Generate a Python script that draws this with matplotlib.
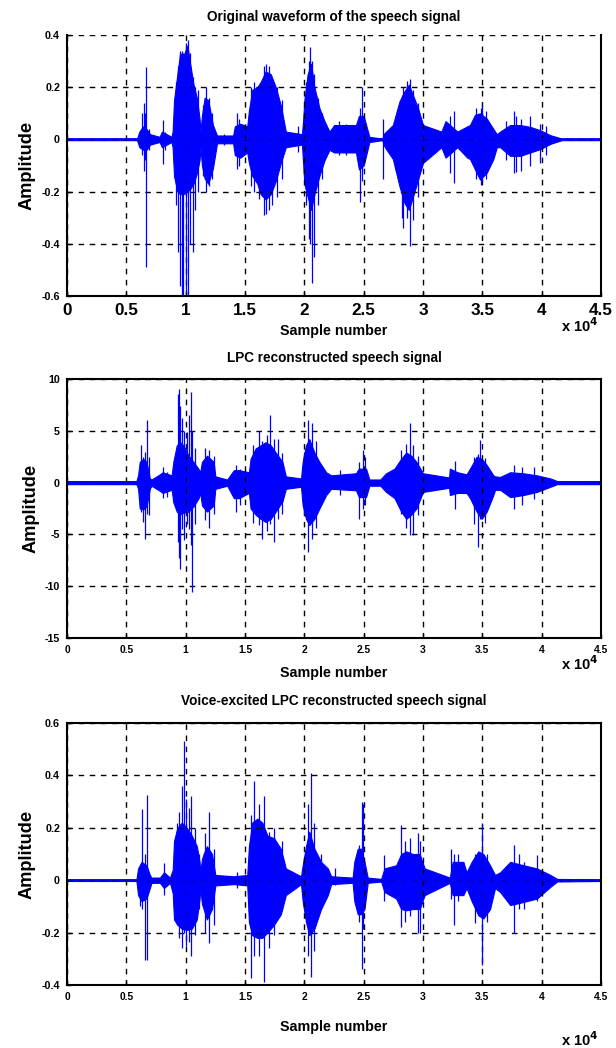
import numpy as np
import matplotlib.pyplot as plt
from matplotlib import font_manager

installed = {f.name for f in font_manager.fontManager.ttflist}
if 'Liberation Sans Narrow' in installed:
    plt.rcParams['font.family'] = ['Liberation Sans Narrow', 'DejaVu Sans']
    fs = 1.0
else:
    plt.rcParams['font.family'] = ['Liberation Sans', 'DejaVu Sans']
    fs = 0.82
plt.rcParams['font.weight'] = 'bold'

# ---- panel 1: original waveform (sample, upper / lower edge of the dense core) ----
orig_x = [0, 5900, 6100, 6400, 6700, 7000, 7800, 8000, 8400, 8800, 8900, 9020, 9300, 9530,
          9810, 10150, 10380, 10660, 10940, 11170, 11250, 11370, 11600, 11900, 12300,
          12640, 14000, 14140, 14600, 15190, 15330, 15610, 16040, 16320, 16740, 17170,
          17590, 18020, 18440, 19800, 19910, 20000, 20280, 20570, 20850, 21270, 21700,
          22120, 22510, 24350, 24600, 25000, 25480, 26580, 26670, 26890, 27460, 28020,
          28450, 28810, 29150, 29580, 30000, 31550, 31900, 32900, 33730, 33960, 34380,
          34800, 35370, 35930, 36220, 36500, 37350, 38190, 39040, 39890, 40740, 41200,
          41700, 45000]
orig_up = [0.003, 0.003, 0.03, 0.05, 0.04, 0.02, 0.01, 0.03, 0.02, 0.01, 0.03, 0.15, 0.25, 0.33,
           0.32, 0.36, 0.29, 0.21, 0.16, 0.08, 0.03, 0.09, 0.16, 0.15, 0.055,
           0.015, 0.015, 0.05, 0.06, 0.05, 0.11, 0.19, 0.20, 0.22, 0.26, 0.25,
           0.20, 0.13, 0.03, 0.02, 0.08, 0.15, 0.25, 0.29, 0.20, 0.12, 0.07,
           0.03, 0.055, 0.055, 0.09, 0.09, 0.01, 0.003, 0.02, 0.03, 0.055, 0.146,
           0.185, 0.21, 0.17, 0.12, 0.055, 0.03, 0.07, 0.03, 0.05, 0.055, 0.094,
           0.10, 0.08, 0.04, 0.02, 0.03, 0.055, 0.055, 0.048, 0.035, 0.016, 0.01,
           0.003, 0.003]
orig_lo = [-0.003, -0.003, -0.03, -0.04, -0.04, -0.02, -0.01, -0.03, -0.02, -0.01, -0.03, -0.14, -0.20, -0.21,
           -0.21, -0.20, -0.19, -0.17, -0.13, -0.08, -0.03, -0.10, -0.15, -0.17, -0.11,
           -0.015, -0.015, -0.06, -0.07, -0.05, -0.09, -0.14, -0.17, -0.21, -0.23, -0.21,
           -0.16, -0.09, -0.03, -0.02, -0.10, -0.17, -0.22, -0.27, -0.21, -0.14, -0.08,
           -0.04, -0.05, -0.05, -0.115, -0.10, -0.01, -0.003, -0.02, -0.037, -0.075, -0.18,
           -0.245, -0.27, -0.22, -0.155, -0.09, -0.03, -0.07, -0.03, -0.07, -0.075, -0.115,
           -0.154, -0.128, -0.075, -0.03, -0.03, -0.063, -0.063, -0.05, -0.037, -0.017, -0.01,
           -0.003, -0.003]
orig_spk_x = [6350, 6450, 6560, 6620, 6900, 8060, 8250, 9200, 9390, 9530, 9670, 9810, 10010,
              10180, 10380, 10600, 10800, 11000, 11500, 11740, 12000, 12200, 13200, 14300,
              14500, 15500, 15800, 16200, 16600, 16800, 17000, 17300, 17700, 18100, 19430,
              20100, 20380, 20500, 20620, 20850, 21150, 21500, 22900, 23500, 24720, 24860,
              26610, 27700, 28200, 28300, 28670, 28870, 29150, 29600, 30500, 32300, 32630,
              34500, 34860, 34940, 35300, 37000, 37630, 37800, 38300, 39040, 39890, 40400]
orig_spk_hi = [0.10, 0.14, 0.10, 0.277, 0.04, 0.075, 0.03, 0.22, 0.28, 0.34, 0.34, 0.33, 0.37,
               0.38, 0.33, 0.24, 0.20, 0.19, 0.13, 0.20, 0.16, 0.10, 0.02, 0.10,
               0.08, 0.20, 0.22, 0.21, 0.28, 0.29, 0.28, 0.22, 0.20, 0.15, 0.05,
               0.22, 0.30, 0.355, 0.30, 0.25, 0.16, 0.10, 0.07, 0.06, 0.12, 0.20,
               0.08, 0.09, 0.17, 0.20, 0.225, 0.23, 0.19, 0.14, 0.045, 0.09, 0.107,
               0.12, 0.12, 0.133, 0.11, 0.07, 0.107, 0.09, 0.08, 0.09, 0.06, 0.05]
orig_spk_lo = [-0.06, -0.12, -0.08, -0.49, -0.04, -0.095, -0.04, -0.25, -0.43, -0.56, -0.60, -0.60, -0.59,
               -0.60, -0.40, -0.43, -0.27, -0.20, -0.14, -0.20, -0.18, -0.15, -0.02, -0.115,
               -0.10, -0.18, -0.20, -0.23, -0.29, -0.285, -0.27, -0.25, -0.22, -0.15, -0.05,
               -0.25, -0.38, -0.40, -0.55, -0.45, -0.25, -0.15, -0.06, -0.06, -0.24, -0.16,
               -0.15, -0.12, -0.30, -0.34, -0.30, -0.41, -0.31, -0.22, -0.04, -0.13, -0.167,
               -0.15, -0.174, -0.16, -0.15, -0.08, -0.128, -0.125, -0.12, -0.10, -0.09, -0.06]

# ---- panel 2: LPC reconstructed ----
lpc_x = [0, 5850, 5990, 6130, 6420, 6700, 6980, 7120, 7830, 8060, 8820, 8960, 9250, 9530,
         9810, 10240, 10660, 11090, 11230, 11370, 11800, 12360, 12500, 13500, 14060, 14500,
         15330, 15470, 15900, 16320, 16740, 17170, 17590, 18160, 18440, 19720, 19860,
         20140, 20420, 20850, 21270, 21840, 22260, 24350, 24600, 25200, 25480, 26400,
         26890, 27600, 28160, 28590, 29010, 29440, 30000, 32200, 32260, 32900, 33670,
         33960, 34520, 34940, 35370, 35930, 36070, 36500, 37350, 38470, 39600, 40740,
         41300, 45000]
lpc_up = [0.15, 0.15, 0.7, 2.0, 2.3, 2.0, 0.4, 0.3, 0.8, 1.0, 0.7, 2.0, 3.6, 3.9,
          3.6, 2.6, 2.0, 1.3, 1.0, 2.0, 2.6, 2.0, 0.6, 0.3, 1.2, 1.2,
          1.0, 2.3, 3.3, 3.6, 3.9, 3.6, 2.9, 2.0, 0.6, 0.4, 2.0,
          3.6, 4.2, 2.9, 2.0, 1.0, 0.7, 0.9, 1.35, 1.35, 0.3, 0.3,
          0.9, 1.35, 2.3, 2.9, 2.6, 2.0, 0.9, 0.5, 1.35, 1.0, 0.8,
          1.35, 2.5, 2.3, 1.7, 0.7, 0.6, 0.55, 1.0, 0.9, 0.7, 0.4,
          0.15, 0.15]
lpc_lo = [-0.15, -0.15, -0.6, -2.5, -2.6, -2.3, -0.6, -0.3, -0.8, -1.0, -0.7, -1.9, -2.8, -3.1,
          -2.9, -2.8, -2.3, -1.5, -1.0, -2.2, -2.8, -2.2, -0.6, -0.3, -1.5, -1.5,
          -1.0, -2.5, -3.1, -3.5, -3.8, -3.5, -2.8, -1.8, -0.6, -0.4, -2.2,
          -3.5, -4.1, -3.5, -2.5, -1.2, -0.6, -0.74, -1.4, -1.4, -0.3, -0.3,
          -0.9, -1.5, -2.8, -3.5, -3.1, -2.5, -0.9, -0.5, -1.2, -1.0, -1.0,
          -1.5, -2.8, -3.5, -2.8, -1.2, -0.7, -0.7, -1.4, -1.2, -0.9, -0.4,
          -0.15, -0.15]
lpc_spk_x = [6220, 6420, 6560, 6730, 6900, 8060, 8400, 9330, 9440, 9530, 9670, 9850, 10100,
             10250, 10420, 10520, 10800, 11590, 11930, 12360, 14200, 14550, 15700, 16180,
             16460, 16890, 17110, 17450, 17750, 18160, 20000, 20340, 20620, 20950, 23000,
             24580, 24920, 25100, 28160, 28590, 28870, 29150, 29580, 32680, 34300, 34660,
             34800, 35230, 37630, 38330, 39320]
lpc_spk_hi = [3.6, 2.5, 3.0, 6.0, 2.5, 1.5, 1.0, 8.6, 9.0, 7.4, 6.2, 5.0, 4.9,
              6.5, 8.7, 5.0, 3.3, 3.3, 3.1, 2.6, 1.7, 1.3, 3.6, 5.0,
              4.0, 4.6, 6.5, 4.2, 4.2, 2.9, 3.0, 6.0, 5.8, 4.0, 1.2,
              2.0, 3.1, 2.5, 3.1, 3.75, 5.8, 3.6, 2.6, 2.1, 2.5, 2.8,
              4.1, 2.4, 1.7, 1.5, 1.5]
lpc_spk_lo = [-2.8, -3.8, -5.4, -3.0, -3.1, -1.5, -1.4, -5.7, -7.3, -8.3, -4.5, -5.5, -4.0,
              -4.5, -6.0, -10.6, -4.0, -3.6, -4.4, -3.0, -2.8, -2.2, -3.9, -4.1,
              -5.4, -4.7, -4.0, -5.7, -3.5, -3.0, -3.0, -6.7, -5.4, -4.4, -1.2,
              -3.5, -2.5, -2.2, -3.0, -4.4, -5.1, -5.1, -3.1, -2.5, -4.0, -6.2,
              -3.5, -3.9, -2.5, -2.2, -1.6]

# ---- panel 3: voice-excited LPC reconstructed ----
ve_x = [0, 5850, 5990, 6280, 6700, 6980, 7120, 7830, 8170, 8680, 8910, 9020, 9300, 9670,
        10090, 10520, 10940, 11170, 11230, 11370, 11510, 11790, 12220, 12500, 14060, 15190,
        15330, 15610, 16040, 16460, 16890, 17450, 18020, 18440, 19720, 19860, 20140,
        20420, 20850, 21410, 21980, 22260, 24070, 24210, 24500, 24780, 25070, 25340,
        26470, 26750, 27740, 28160, 28590, 29150, 29720, 30140, 32260, 32500, 33400,
        33670, 34100, 34660, 35090, 35650, 36070, 36500, 37350, 38470, 39600, 40740,
        41300, 45000]
ve_up = [0.003, 0.003, 0.045, 0.07, 0.057, 0.02, 0.01, 0.01, 0.03, 0.01, 0.04, 0.15, 0.20, 0.22,
         0.20, 0.17, 0.13, 0.07, 0.03, 0.08, 0.10, 0.13, 0.10, 0.02, 0.015, 0.02,
         0.13, 0.22, 0.235, 0.22, 0.17, 0.16, 0.12, 0.045, 0.015, 0.057, 0.13,
         0.185, 0.12, 0.07, 0.045, 0.015, 0.01, 0.07, 0.12, 0.12, 0.07, 0.01,
         0.005, 0.045, 0.057, 0.10, 0.11, 0.10, 0.10, 0.045, 0.01, 0.07, 0.07,
         0.03, 0.07, 0.11, 0.10, 0.057, 0.02, 0.03, 0.07, 0.057, 0.045, 0.02,
         0.005, 0.003]
ve_lo = [-0.003, -0.003, -0.057, -0.08, -0.07, -0.03, -0.01, -0.01, -0.03, -0.01, -0.05, -0.15, -0.17, -0.185,
         -0.19, -0.185, -0.15, -0.07, -0.03, -0.09, -0.11, -0.15, -0.11, -0.02, -0.015, -0.02,
         -0.16, -0.21, -0.22, -0.22, -0.20, -0.17, -0.13, -0.057, -0.015, -0.08, -0.16,
         -0.21, -0.185, -0.11, -0.057, -0.015, -0.01, -0.08, -0.13, -0.13, -0.11, -0.01,
         -0.005, -0.045, -0.07, -0.11, -0.115, -0.11, -0.11, -0.057, -0.01, -0.057, -0.057,
         -0.03, -0.08, -0.134, -0.146, -0.11, -0.03, -0.045, -0.095, -0.083, -0.07, -0.025,
         -0.005, -0.003]
ve_spk_x = [6150, 6360, 6560, 6700, 8170, 9250, 9440, 9670, 9900, 10030, 10240, 10460,
            10800, 11090, 11650, 11930, 12360, 14300, 15470, 15750, 16180, 16600, 17030,
            17450, 18160, 20280, 20570, 20850, 21410, 22600, 24580, 24860, 24970, 26750,
            28110, 28450, 28930, 29580, 29720, 32350, 32630, 32980, 34380, 34940, 35370,
            37630, 38050, 38470, 39600]
ve_spk_hi = [0.03, 0.27, 0.10, 0.325, 0.064, 0.22, 0.26, 0.36, 0.53, 0.31, 0.275, 0.32,
             0.20, 0.10, 0.18, 0.26, 0.12, 0.03, 0.25, 0.38, 0.29, 0.32, 0.185,
             0.20, 0.15, 0.29, 0.41, 0.22, 0.10, 0.045, 0.135, 0.30, 0.29, 0.095,
             0.21, 0.15, 0.16, 0.18, 0.15, 0.12, 0.10, 0.10, 0.10, 0.22, 0.10,
             0.134, 0.10, 0.07, 0.095]
ve_spk_lo = [-0.10, -0.11, -0.305, -0.305, -0.057, -0.17, -0.22, -0.26, -0.20, -0.25, -0.235, -0.29,
             -0.21, -0.11, -0.20, -0.24, -0.17, -0.03, -0.375, -0.29, -0.29, -0.39, -0.26,
             -0.21, -0.11, -0.29, -0.37, -0.27, -0.11, -0.02, -0.16, -0.34, -0.185, -0.08,
             -0.18, -0.16, -0.135, -0.20, -0.20, -0.07, -0.17, -0.08, -0.165, -0.325, -0.16,
             -0.20, -0.11, -0.11, -0.08]

titles = ['Original waveform of the speech signal',
          'LPC reconstructed speech signal',
          'Voice-excited LPC reconstructed speech signal']
ylims = [(-0.6, 0.4), (-15, 10), (-0.4, 0.6)]
yticks = [[-0.6, -0.4, -0.2, 0, 0.2, 0.4], [-15, -10, -5, 0, 5, 10], [-0.4, -0.2, 0, 0.2, 0.4, 0.6]]
ytick_labels = [['-0.6', '-0.4', '-0.2', '0', '0.2', '0.4'],
                ['-15', '-10', '-5', '0', '5', '10'],
                ['-0.4', '-0.2', '0', '0.2', '0.4', '0.6']]
xticks = [0, 5000, 10000, 15000, 20000, 25000, 30000, 35000, 40000, 45000]
xtick_labels = ['0', '0.5', '1', '1.5', '2', '2.5', '3', '3.5', '4', '4.5']

W, H = 616, 1048
fig = plt.figure(figsize=(W / 100, H / 100), dpi=100)

def add_axes(left, top, right, bottom):
    return fig.add_axes([left / W, 1 - bottom / H, (right - left) / W, (bottom - top) / H])

boxes = [(67, 35, 601, 296), (67, 379, 601, 638), (67, 723, 601, 985)]
series = [(orig_x, orig_up, orig_lo, orig_spk_x, orig_spk_hi, orig_spk_lo),
          (lpc_x, lpc_up, lpc_lo, lpc_spk_x, lpc_spk_hi, lpc_spk_lo),
          (ve_x, ve_up, ve_lo, ve_spk_x, ve_spk_hi, ve_spk_lo)]
xlabel_y = [331, 673, 1027]
exp_y = [326, 664, 1040]
title_y = [17, 358, 701]
tick_fs = [15, 9, 9]
base_lw = [1.2, 1.8, 1.2]

for i in range(3):
    ax = add_axes(*boxes[i])
    x, up, lo, sx, shi, slo = series[i]
    ax.fill_between(x, lo, up, color='blue', lw=0.8)
    ax.vlines(sx, slo, shi, color='blue', lw=0.9)
    ax.plot([0, 45000], [0, 0], color='blue', lw=base_lw[i])

    ax.set_xlim(0, 45000)
    ax.set_ylim(*ylims[i])
    ax.set_xticks(xticks)
    ax.set_xticklabels(xtick_labels, fontsize=tick_fs[i] * fs, fontweight='bold')
    ax.set_yticks(yticks[i])
    ax.set_yticklabels(ytick_labels[i], fontsize=9.5 * fs, fontweight='bold')
    ax.tick_params(direction='in', length=3, width=1, pad=5)
    ax.grid(True, color='black', linestyle=(0, (4, 4)), lw=1)
    for s in ax.spines.values():
        s.set_linewidth(1.5)
    if i == 0:
        ax.spines['top'].set_visible(False)

    ax.set_ylabel('Amplitude', fontsize=16 * fs, fontweight='bold', labelpad=4)
    fig.text(334 / W, 1 - title_y[i] / H, titles[i], ha='center', va='center',
             fontsize=12 * fs, fontweight='bold')
    fig.text(334 / W, 1 - xlabel_y[i] / H, 'Sample number', ha='center', va='center',
             fontsize=12.5 * fs, fontweight='bold')
    fig.text(580 / W, 1 - exp_y[i] / H, r'x 10$^4$', ha='center', va='center',
             fontsize=13 * fs, fontweight='bold')

plt.savefig('out.png', dpi=100)
